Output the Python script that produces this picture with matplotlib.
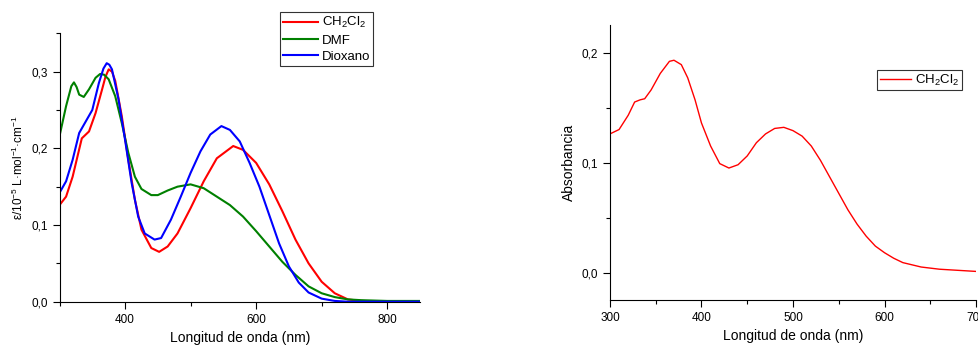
import matplotlib
matplotlib.use("Agg")
import matplotlib.pyplot as plt
from matplotlib.ticker import MultipleLocator, FuncFormatter

plt.rcParams['font.family'] = ['Liberation Sans', 'DejaVu Sans']
plt.rcParams['mathtext.fontset'] = 'custom'
plt.rcParams['mathtext.rm'] = 'Liberation Sans'
plt.rcParams['mathtext.it'] = 'Liberation Sans:italic'

# left panel: molar absorptivity in three solvents
wl_dcm = [300, 310, 320, 334, 345, 355, 365, 370, 375, 380, 385, 395, 405, 415, 425, 440, 452,
          465, 480, 500, 520, 540, 565, 580, 600, 620, 640, 660, 680, 700, 720, 740,
          760, 800, 850]
eps_dcm = [0.126, 0.137, 0.163, 0.213, 0.222, 0.246, 0.277, 0.293, 0.303, 0.300, 0.288,
           0.242, 0.185, 0.133, 0.094, 0.070, 0.065, 0.072, 0.089, 0.122, 0.157, 0.187,
           0.203, 0.198, 0.181, 0.153, 0.118, 0.081, 0.050, 0.026, 0.011, 0.003, 0.001,
           0.0, 0.0]

wl_dmf = [300, 310, 318, 322, 326, 330, 337, 345, 355, 362, 368, 375, 385, 395, 405, 415,
          425, 440, 450, 465, 480, 500, 520, 540, 560, 580, 600, 620, 640, 660, 680, 700,
          720, 740, 760, 800, 850]
eps_dmf = [0.216, 0.255, 0.281, 0.286, 0.280, 0.270, 0.267, 0.277, 0.292, 0.297, 0.296,
           0.290, 0.268, 0.233, 0.194, 0.163, 0.147, 0.139, 0.139, 0.145, 0.150, 0.153,
           0.148, 0.137, 0.126, 0.111, 0.092, 0.072, 0.052, 0.035, 0.020, 0.011, 0.006,
           0.003, 0.002, 0.001, 0.001]

wl_diox = [300, 310, 320, 330, 340, 350, 360, 367, 372, 376, 380, 390, 400, 410, 420, 430,
           445, 455, 470, 485, 500, 515, 530, 547, 560, 575, 590, 605, 620, 635, 650, 665,
           680, 700, 720, 740, 850]
eps_diox = [0.142, 0.157, 0.185, 0.220, 0.235, 0.250, 0.285, 0.304, 0.311, 0.309, 0.303,
            0.264, 0.211, 0.155, 0.111, 0.089, 0.081, 0.083, 0.107, 0.137, 0.168, 0.196,
            0.218, 0.229, 0.224, 0.209, 0.181, 0.150, 0.113, 0.076, 0.046, 0.025, 0.012,
            0.004, 0.001, 0.0, 0.0]

# right panel: absorbance in CH2Cl2
wl_abs = [300, 310, 320, 327, 333, 338, 345, 355, 365, 370, 378, 385, 393, 400, 410,
          420, 430, 440, 450, 460, 470, 480, 490, 500, 510, 520, 530, 540, 550, 560,
          570, 580, 590, 600, 610, 620, 630, 640, 650, 660, 680, 700]
absorb = [0.126, 0.130, 0.143, 0.155, 0.157, 0.158, 0.166, 0.181, 0.192, 0.193, 0.189,
          0.177, 0.157, 0.136, 0.115, 0.099, 0.095, 0.098, 0.106, 0.118, 0.126, 0.131,
          0.132, 0.129, 0.124, 0.115, 0.102, 0.087, 0.072, 0.057, 0.044, 0.033, 0.024,
          0.018, 0.013, 0.009, 0.007, 0.005, 0.004, 0.003, 0.002, 0.001]

comma = FuncFormatter(lambda v, p: ("%.1f" % v).replace(".", ","))


def style(ax):
    for s in ["top", "right"]:
        ax.spines[s].set_visible(False)
    ax.tick_params(which="major", direction="out", length=5, width=0.8, labelsize=8.5)
    ax.tick_params(which="minor", direction="out", length=3, width=0.8)
    ax.yaxis.set_major_formatter(comma)


fig = plt.figure(figsize=(9.79, 3.45), dpi=100)

ax1 = fig.add_axes([0.0608, 0.1255, 0.3682, 0.778])
ax1.plot(wl_dcm, eps_dcm, color="#ff0000", lw=1.5, label="CH$_2$Cl$_2$")
ax1.plot(wl_dmf, eps_dmf, color="#008000", lw=1.5, label="DMF")
ax1.plot(wl_diox, eps_diox, color="#0000ff", lw=1.5, label="Dioxano")
ax1.set_xlim(300, 850)
ax1.set_ylim(0, 0.35)
ax1.xaxis.set_major_locator(MultipleLocator(200))
ax1.xaxis.set_minor_locator(MultipleLocator(100))
ax1.yaxis.set_major_locator(MultipleLocator(0.1))
ax1.yaxis.set_minor_locator(MultipleLocator(0.05))
style(ax1)
ax1.set_xlabel("Longitud de onda (nm)", fontsize=10)
ax1.set_ylabel("ε/10$^{-5}$ L·mol$^{-1}$·cm$^{-1}$", fontsize=8.5)
leg1 = ax1.legend(loc="upper left", bbox_to_anchor=(280 / 979, 1 - 12 / 345),
                  bbox_transform=fig.transFigure, fontsize=9.5,
                  frameon=True, fancybox=False, edgecolor="black", handlelength=2.6,
                  borderpad=0.25, labelspacing=0.3, handletextpad=0.3, borderaxespad=0)
leg1.get_frame().set_linewidth(0.8)

ax2 = fig.add_axes([0.623, 0.1304, 0.374, 0.797])
ax2.plot(wl_abs, absorb, color="#ff0000", lw=1.0, label="CH$_2$Cl$_2$")
ax2.set_xlim(300, 700)
ax2.set_ylim(-0.025, 0.225)
ax2.xaxis.set_major_locator(MultipleLocator(100))
ax2.xaxis.set_minor_locator(MultipleLocator(50))
ax2.yaxis.set_major_locator(MultipleLocator(0.1))
ax2.yaxis.set_minor_locator(MultipleLocator(0.05))
style(ax2)
ax2.set_xlabel("Longitud de onda (nm)", fontsize=10)
ax2.set_ylabel("Absorbancia", fontsize=10)
leg2 = ax2.legend(loc="upper left", bbox_to_anchor=(877 / 979, 1 - 70 / 345),
                  bbox_transform=fig.transFigure, fontsize=9.5,
                  frameon=True, fancybox=False, edgecolor="black", handlelength=2.4,
                  borderpad=0.2, handletextpad=0.3, borderaxespad=0)
leg2.get_frame().set_linewidth(0.8)

fig.savefig("out.png", dpi=100)
